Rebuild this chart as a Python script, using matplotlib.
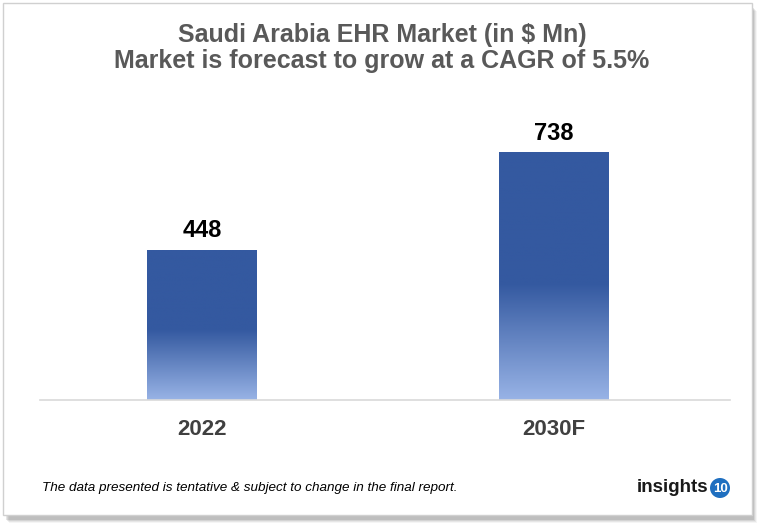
import matplotlib.pyplot as plt
import numpy as np
from matplotlib.colors import LinearSegmentedColormap
from matplotlib.patches import Rectangle, Ellipse

plt.rcParams['font.family'] = ['Liberation Sans', 'DejaVu Sans']

years = ['2022', '2030F']
market_size = [448, 738]
title = 'Saudi Arabia EHR Market (in $ Mn)\nMarket is forecast to grow at a CAGR of 5.5%'
footnote = 'The data presented is tentative & subject to change in the final report.'

fig = plt.figure(figsize=(7.65, 5.25), dpi=100)

# card frame with a soft shadow
for i, a in enumerate([0.10, 0.08, 0.06, 0.04]):
    fig.patches.append(Rectangle((6 / 765 + i / 765, 1 - 520 / 525 - i / 525), 748 / 765, 512 / 525,
                                 transform=fig.transFigure, facecolor='#000000', alpha=a,
                                 edgecolor='none', zorder=0))
fig.patches.append(Rectangle((3 / 765, 1 - 515 / 525), 749 / 765, 512 / 525,
                             transform=fig.transFigure, facecolor='white',
                             edgecolor='#d0d0d0', linewidth=1.0, zorder=1))

ax = fig.add_axes([40 / 765, 125 / 525, 690 / 765, 300 / 525])
ax.set_zorder(2)
ax.patch.set_alpha(0)

x = np.arange(len(years))
width = 0.31
cmap = LinearSegmentedColormap.from_list(
    'bar', [(0.0, '#3459a0'), (0.53, '#3459a0'), (1.0, '#98b3e6')])
grad = np.linspace(0, 1, 256).reshape(-1, 1)

bars = ax.bar(x, market_size, width=width, color='none')
for bar, val in zip(bars, market_size):
    x0 = bar.get_x()
    ax.imshow(grad, cmap=cmap, aspect='auto', origin='upper',
              extent=[x0, x0 + width, 0, val], zorder=2)
    ax.text(bar.get_x() + width / 2, val + 25, f'{val}', ha='center', va='bottom',
            fontsize=17, fontweight='bold', color='black')

ax.set_xlim(-0.46, 1.5)
ax.set_ylim(0, 896)
ax.set_xticks(x)
ax.set_xticklabels(years, fontsize=16, fontweight='bold', color='#404040')
ax.tick_params(axis='x', length=0, pad=14)
ax.set_yticks([])
for side in ['top', 'right', 'left']:
    ax.spines[side].set_visible(False)
ax.spines['bottom'].set_color('#d9d9d9')
ax.spines['bottom'].set_linewidth(1.2)

fig.text(382 / 765, 1 - 48 / 525, title, ha='center', va='center', fontsize=18,
         fontweight='bold', color='#595959', linespacing=1.15)
fig.text(42 / 765, 1 - 488 / 525, footnote, ha='left', va='center', fontsize=9.7,
         style='italic', color='black')

# logo
fig.text(708 / 765, 1 - 488 / 525, 'insights', ha='right', va='center', fontsize=13.5,
         fontweight='bold', color='#1a1a1a')
fig.patches.append(Ellipse((720 / 765, 1 - 488 / 525), 20 / 765, 20 / 525,
                           transform=fig.transFigure, facecolor='#1f6fc0',
                           edgecolor='none', zorder=3))
fig.text(720 / 765, 1 - 488.5 / 525, '10', ha='center', va='center', fontsize=9.5,
         fontweight='bold', color='white', zorder=4)

fig.savefig('out.png', dpi=100)
